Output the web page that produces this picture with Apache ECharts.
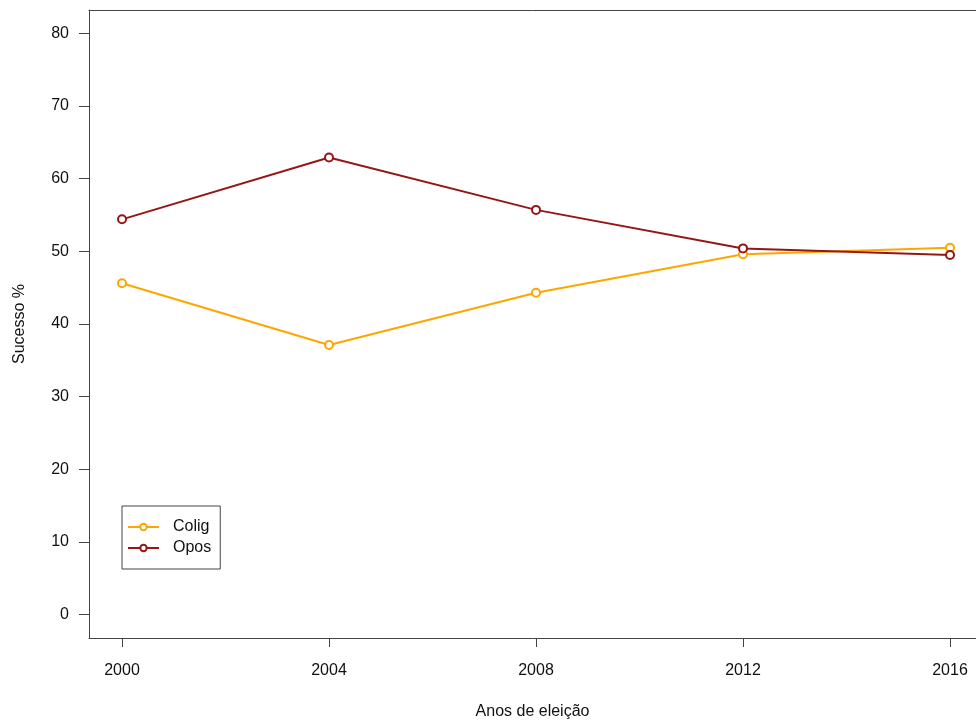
<!DOCTYPE html>
<html>
<head>
<meta charset="utf-8">
<script src="https://cdn.jsdelivr.net/npm/echarts@6/dist/echarts.min.js"></script>
<style>
  html, body { margin: 0; padding: 0; background: #fff; }
  #chart { width: 976px; height: 725px; }
</style>
</head>
<body>
<div id="chart"></div>
<script>
// Election years and success rates (%) per group
const years = [2000, 2004, 2008, 2012, 2016];
const colig = [45.6, 37.1, 44.3, 49.6, 50.5];
const opos = [54.4, 62.9, 55.7, 50.4, 49.5];
const yTicks = [0, 10, 20, 30, 40, 50, 60, 70, 80];
const xTicks = [2000, 2004, 2008, 2012, 2016];

const font = '"Liberation Sans", Helvetica, Arial, sans-serif';
const axisColor = '#444';

const pairs = (xs, ys) => xs.map((x, i) => [x, ys[i]]);

const chart = echarts.init(document.getElementById('chart'), null, { renderer: 'canvas' });

function lineSeries(name, color, values) {
  return {
    name: name,
    type: 'line',
    data: pairs(years, values),
    symbol: 'circle',
    symbolSize: 8,
    showSymbol: true,
    lineStyle: { color: color, width: 2 },
    itemStyle: { color: '#fff', borderColor: color, borderWidth: 2 },
    emphasis: { disabled: true },
    animation: false,
    z: 3
  };
}

// x range: the plot region runs slightly past the right edge of the page
const xMin = 1999.362, xMax = 2016.502;

chart.setOption({
  backgroundColor: '#fff',
  animation: false,
  grid: { left: 89, top: 10, bottom: 87, right: 0, show: false },
  legend: {
    left: 122, top: 506,
    orient: 'vertical',
    padding: [13, 9, 13, 5],
    itemGap: 5,
    itemWidth: 31, itemHeight: 8,
    borderColor: axisColor, borderWidth: 1, borderRadius: 0,
    backgroundColor: '#fff',
    textStyle: { fontFamily: font, fontSize: 16, color: '#111', padding: [0, 0, 0, 9] },
    data: ['Colig', 'Opos']
  },
  xAxis: [{
    type: 'value',
    min: xMin, max: xMax,
    name: 'Anos de eleição',
    nameLocation: 'middle',
    nameGap: 66,
    nameTextStyle: { fontFamily: font, fontSize: 16, color: '#111' },
    axisLine: { show: true, onZero: false, lineStyle: { color: axisColor, width: 1 } },
    axisTick: { show: true, length: 9, customValues: xTicks, lineStyle: { color: axisColor } },
    axisLabel: {
      customValues: xTicks, margin: 25, fontFamily: font, fontSize: 16, color: '#111',
      formatter: v => String(v)
    },
    splitLine: { show: false }
  }, {
    // top edge of the plot frame
    type: 'value',
    position: 'top',
    min: xMin, max: xMax,
    axisLine: { show: true, onZero: false, lineStyle: { color: axisColor, width: 1 } },
    axisTick: { show: false },
    axisLabel: { show: false },
    splitLine: { show: false }
  }],
  yAxis: {
    type: 'value',
    min: -3.2, max: 83.2,
    name: 'Sucesso %',
    nameLocation: 'middle',
    nameGap: 61,
    nameRotate: 90,
    nameTextStyle: { fontFamily: font, fontSize: 16, color: '#111' },
    axisLine: { show: true, onZero: false, lineStyle: { color: axisColor, width: 1 } },
    axisTick: { show: true, length: 10, customValues: yTicks, lineStyle: { color: axisColor } },
    axisLabel: { customValues: yTicks, margin: 20, fontFamily: font, fontSize: 16, color: '#111' },
    splitLine: { show: false }
  },
  series: [
    lineSeries('Colig', '#FFA500', colig),
    lineSeries('Opos', '#951616', opos)
  ]
});
</script>
</body>
</html>
